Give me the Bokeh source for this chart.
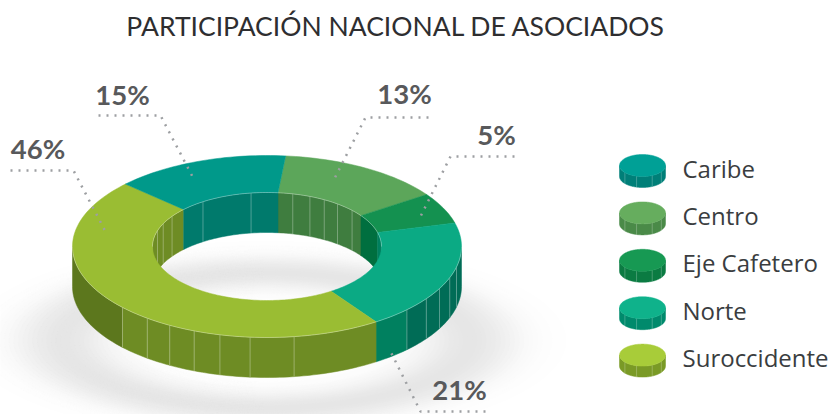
import math
import numpy as np
from bokeh.plotting import figure
from bokeh.embed import file_html
from bokeh.resources import INLINE
from bokeh.core.properties import value

TITLE = "PARTICIPACIÓN NACIONAL DE ASOCIADOS"
categories = ["Caribe", "Centro", "Eje Cafetero", "Norte", "Suroccidente"]
pct_labels = ["15%", "13%", "5%", "21%", "46%"]
# slice shares as drawn in the picture (percent of the ring)
shares = [14.5, 13.8, 5.5, 19.7, 46.5]
top_colors = ["#00998A", "#5CA65A", "#149150", "#0BAA84", "#9ABD33"]
wall_front = ["#007A6C", "#3F7D3F", "#006F3F", "#00805F", "#6E8C24"]
wall_dark = ["#007A6C", "#3F7D3F", "#006F3F", "#006C56", "#5C771D"]
legend_top = ["#00A096", "#66AD5E", "#179953", "#0FB28B", "#A8CC39"]
legend_wall = ["#007F78", "#4A8A48", "#0B7B42", "#008A6C", "#7A9A26"]

# ring layout in window pixels
CX, CY, RX, RY, IRX, IRY, DEPTH = 266.5, 246.0, 194.5, 91.0, 114.5, 54.0, 40.0
START = 84.5  # the Centro edge; Centro, Eje, Norte, Suroccidente, Caribe run clockwise
outer_facets = [-138, -128, -120, -112, -104, -95, -82, -44, -35, -27.5, -20, -13]
inner_facets = [163, 155, 146, 124, 98, 77, 68, 60, 52, 42]

p = figure(width=832, height=414, x_range=(0, 832), y_range=(414, 0),
           output_backend="svg", toolbar_location=None, min_border=0,
           outline_line_color=None, background_fill_color="white",
           border_fill_color="white")
p.axis.visible = False
p.grid.visible = False


def arc(a0, a1, rx, ry, cx=CX, cy=CY, n=None):
    n = n or max(3, int(abs(a1 - a0) / 1.5) + 2)
    t = np.radians(np.linspace(a0, a1, n))
    return cx + rx * np.cos(t), cy - ry * np.sin(t)


# soft shadow on the floor: many concentric ellipses painted from outside in
sx, sy, sc = [], [], []
for s in np.linspace(1.6, 0.02, 70):
    a = math.exp(-((s - 1.0) / 0.24) ** 2)
    g = int(round(255 - 25 * a))
    t = np.linspace(0, 2 * np.pi, 120)
    sx.append(266 + 205 * s * np.cos(t))
    sy.append(340 + 68 * s * np.sin(t))
    sc.append("#%02x%02x%02x" % (g, g, g))
p.patches(sx, sy, fill_color=sc, line_color=sc, line_width=0.5)

# slices angles, clockwise from START
order = [1, 2, 3, 4, 0]
bounds = {}
a = START
for i in order:
    a1 = a - shares[i] * 3.6
    bounds[i] = (a1, a)
    a = a1


def clipped(a0, a1, lo, hi):
    lo2, hi2 = max(a0, lo), min(a1, hi)
    return (lo2, hi2) if hi2 > lo2 else None


# outer wall (visible where sin<0, i.e. angles -180..0, also +360 wrap)
wx, wy, wc = [], [], []
for i, (a0, a1) in bounds.items():
    for off in (0, -360, 360):
        r = clipped(a0 + off, a1 + off, -180, 0)
        if not r:
            continue
        cuts = [r[0]] + [f for f in outer_facets if r[0] < f < r[1]] + [r[1]]
        for u, v in zip(cuts[:-1], cuts[1:]):
            x1, y1 = arc(u, v, RX, RY)
            x2, y2 = arc(v, u, RX, RY, cy=CY + DEPTH)
            wx.append(np.r_[x1, x2])
            wy.append(np.r_[y1, y2])
            mid = (u + v) / 2
            wc.append(wall_dark[i] if abs(math.cos(math.radians(mid))) > 0.74 else wall_front[i])
# inner wall (the back half)
for i, (a0, a1) in bounds.items():
    for off in (0, -360, 360):
        r = clipped(a0 + off, a1 + off, 0, 180)
        if not r:
            continue
        x1, y1 = arc(r[0], r[1], IRX, IRY)
        x2, y2 = arc(r[1], r[0], IRX, IRY, cy=CY + DEPTH)
        wx.append(np.r_[x1, x2])
        wy.append(np.r_[y1, y2])
        wc.append(wall_front[i])
p.patches(wx, wy, fill_color=wc, line_color=wc, line_width=0.5)

# facet lines
fx, fy = [], []
for f in outer_facets:
    x, y = arc(f, f, RX, RY, n=1)
    fx.append([x[0], x[0]])
    fy.append([y[0], y[0] + DEPTH])
for f in inner_facets:
    x, y = arc(f, f, IRX, IRY, n=1)
    fx.append([x[0], x[0]])
    fy.append([y[0], y[0] + DEPTH])
p.multi_line(fx, fy, line_color="white", line_alpha=0.3, line_width=1)

# top face
tx, ty, tc = [], [], []
for i, (a0, a1) in bounds.items():
    x1, y1 = arc(a0, a1, RX, RY)
    x2, y2 = arc(a1, a0, IRX, IRY)
    tx.append(np.r_[x1, x2])
    ty.append(np.r_[y1, y2])
    tc.append(top_colors[i])
p.patches(tx, ty, fill_color=tc, line_color=tc, line_width=0.5)

# thin light rim where the top meets the walls
x1, y1 = arc(-180, 0, RX, RY)
x2, y2 = arc(0, 180, IRX, IRY)
p.multi_line([list(x1), list(x2)], [list(y1), list(y2)], line_color="white", line_alpha=0.4, line_width=0.8)

# leader lines
leaders = {
    "15%": ([98, 160, 193], [115, 115, 178]),
    "13%": ([428, 365, 334], [117, 117, 178]),
    "5%": ([514, 450, 419], [156, 156, 218]),
    "21%": ([485, 420, 389], [411, 411, 349]),
    "46%": ([10, 73, 106], [170, 170, 233]),
}
for k in pct_labels:
    lx, ly = leaders[k]
    p.line(lx, ly, line_color="#9D9FA2", line_width=2.5, line_dash="2 6")

label_pos = {"15%": (122, 93.5), "13%": (404, 92.5), "5%": (496, 133.5), "21%": (459, 388.5), "46%": (37.5, 147.5)}
p.text([label_pos[k][0] for k in pct_labels], [label_pos[k][1] for k in pct_labels], text=pct_labels,
       text_font=value("Lato"), text_font_style="bold", text_font_size="27.5px", text_color="#58595B",
       text_align="center", text_baseline="alphabetic")

p.text([395.5], [25], text=[TITLE], text_font=value("Lato"), text_font_size="26.5px",
       text_color="#2E2E30", text_align="center", text_baseline="alphabetic")

# legend
LX, LRX, LRY, LD = 642.0, 23.0, 11.0, 11.0
tops = [165 + 47.4 * k for k in range(5)]
for k, c in enumerate(categories):
    cy = tops[k]
    x1, y1 = arc(-180, 0, LRX, LRY, cx=LX, cy=cy)
    x2, y2 = arc(0, -180, LRX, LRY, cx=LX, cy=cy + LD)
    p.patch(np.r_[x1, x2], np.r_[y1, y2], fill_color=legend_wall[k], line_color=legend_wall[k], line_width=0.5)
    xs, ys = [], []
    for f in (-140, -105, -65, -35):
        x, y = arc(f, f, LRX, LRY, cx=LX, cy=cy, n=1)
        xs.append([x[0], x[0]])
        ys.append([y[0], y[0] + LD])
    p.multi_line(xs, ys, line_color="white", line_alpha=0.3, line_width=0.8)
    x3, y3 = arc(0, 360, LRX, LRY, cx=LX, cy=cy)
    p.patch(x3, y3, fill_color=legend_top[k], line_color=legend_top[k], line_width=0.5)
p.text([682] * 5, [t + 2.5 for t in tops], text=categories, text_font=value("Open Sans"), text_font_size="24px",
       text_color="#3A3D40", text_align="left", text_baseline="alphabetic")

open("out.html", "w").write(file_html(p, INLINE))
